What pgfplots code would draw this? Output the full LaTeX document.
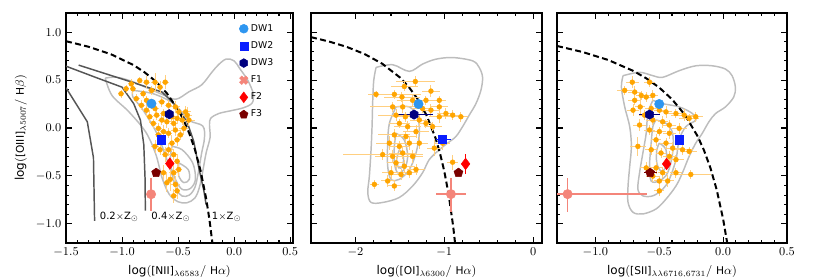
\documentclass[border=0pt]{standalone}
\usepackage{fontspec}
\setmainfont{DejaVu Sans}
\usepackage{pgfplots}
\pgfplotsset{compat=1.18}
\usetikzlibrary{plotmarks}

\definecolor{dwone}{HTML}{2E96F0}
\definecolor{dwtwo}{HTML}{0A1EFF}
\definecolor{dwthree}{HTML}{000080}
\definecolor{fone}{HTML}{F4857A}
\definecolor{ftwo}{HTML}{FF0000}
\definecolor{fthree}{HTML}{7A0000}
\definecolor{orangept}{HTML}{FFA500}
\definecolor{orangeerr}{HTML}{FFCF80}
\definecolor{contourc}{HTML}{BDBDBD}
\definecolor{modelc}{HTML}{555555}

\pgfdeclareplotmark{hexagon*}{%
  \pgfpathmoveto{\pgfpointpolar{90}{\pgfplotmarksize}}%
  \pgfpathlineto{\pgfpointpolar{150}{\pgfplotmarksize}}%
  \pgfpathlineto{\pgfpointpolar{210}{\pgfplotmarksize}}%
  \pgfpathlineto{\pgfpointpolar{270}{\pgfplotmarksize}}%
  \pgfpathlineto{\pgfpointpolar{330}{\pgfplotmarksize}}%
  \pgfpathlineto{\pgfpointpolar{30}{\pgfplotmarksize}}%
  \pgfpathclose\pgfusepathqfillstroke}
\pgfdeclareplotmark{X*}{%
  \pgfpathmoveto{\pgfpointpolar{115.7}{1.06\pgfplotmarksize}}%
  \pgfpathlineto{\pgfpointpolar{90}{0.5\pgfplotmarksize}}%
  \pgfpathlineto{\pgfpointpolar{64.3}{1.06\pgfplotmarksize}}%
  \pgfpathlineto{\pgfpointpolar{25.7}{1.06\pgfplotmarksize}}%
  \pgfpathlineto{\pgfpointpolar{0}{0.5\pgfplotmarksize}}%
  \pgfpathlineto{\pgfpointpolar{-25.7}{1.06\pgfplotmarksize}}%
  \pgfpathlineto{\pgfpointpolar{-64.3}{1.06\pgfplotmarksize}}%
  \pgfpathlineto{\pgfpointpolar{-90}{0.5\pgfplotmarksize}}%
  \pgfpathlineto{\pgfpointpolar{-115.7}{1.06\pgfplotmarksize}}%
  \pgfpathlineto{\pgfpointpolar{-154.3}{1.06\pgfplotmarksize}}%
  \pgfpathlineto{\pgfpointpolar{180}{0.5\pgfplotmarksize}}%
  \pgfpathlineto{\pgfpointpolar{154.3}{1.06\pgfplotmarksize}}%
  \pgfpathclose\pgfusepathqfillstroke}

\newcommand\sx[1]{\mbox{\fontsize{8}{9}\selectfont #1}}

\pgfplotsset{
  bpt/.style={
    scale only axis, height=172.5pt, anchor=south west,
    ymin=-1.2, ymax=1.2, ytick={-1,-0.5,0,0.5,1},
    minor x tick num=4, minor y tick num=4,
    tick align=inside, major tick length=4.5pt, minor tick length=2.4pt,
    tick style={black, line width=0.8pt},
    axis line style={line width=1.2pt},
    tick label style={font=\fontsize{9}{10}\selectfont},
    label style={font=\fontsize{9}{10}\selectfont},
    yticklabel style={/pgf/number format/.cd, fixed, fixed zerofill, precision=1},
  },
  cont/.style={contourc, line width=1.1pt, smooth, tension=0.55, forget plot},
  opts/.style={only marks, mark=*, mark size=1.8pt, color=orangept, forget plot,
    mark options={fill=orangept, draw=orangept},
    error bars/x dir=both, error bars/x explicit,
    error bars/y dir=both, error bars/y explicit,
    error bars/error bar style={orangeerr, line width=0.75pt},
    error bars/error mark=none},
  kdash/.style={black, line width=1.5pt, dash pattern=on 4.5pt off 2.5pt, forget plot},
  sp/.style={only marks, forget plot, color=#1, mark options={fill=#1, draw=#1},
    error bars/x dir=both, error bars/x explicit,
    error bars/y dir=both, error bars/y explicit,
    error bars/error bar style={#1, line width=1pt},
    error bars/error mark=none},
  model/.style={modelc, line width=1.1pt, forget plot},
}

\begin{document}
\begin{tikzpicture}
\useasboundingbox (0,0) rectangle (622.5pt,207.75pt);

% ---------------- Panel 1 ----------------
\begin{axis}[bpt, at={(49.5pt,25.5pt)}, width=170.25pt,
  xmin=-1.5, xmax=0.525, xtick={-1.5,-1,-0.5,0,0.5},
  xticklabel style={/pgf/number format/.cd, fixed, fixed zerofill, precision=1},
  xlabel={$\log(\sx{[NII]}_{\lambda6583}/\ \sx{H}\alpha)$},
  ylabel={$\log(\sx{[OIII]}_{\lambda5007}/\ \sx{H}\beta)$},
  legend style={draw=none, fill=none, at={(0.745,0.975)}, anchor=north west,
    font=\fontsize{7}{8}\selectfont, row sep=2.2pt},
  legend cell align=left]
\addlegendimage{only marks, mark=*, mark size=3.3pt, color=dwone}
\addlegendentry{DW1}
\addlegendimage{only marks, mark=square*, mark size=3pt, color=dwtwo}
\addlegendentry{DW2}
\addlegendimage{only marks, mark=hexagon*, mark size=3.3pt, color=dwthree}
\addlegendentry{DW3}
\addlegendimage{only marks, mark=X*, mark size=3.3pt, color=fone}
\addlegendentry{F1}
\addlegendimage{only marks, mark=diamond*, mark size=4pt, color=ftwo}
\addlegendentry{F2}
\addlegendimage{only marks, mark=pentagon*, mark size=3.3pt, color=fthree}
\addlegendentry{F3}

\addplot[cont] coordinates {(-1.15,0.52) (-1.05,0.53) (-0.92,0.49) (-0.78,0.42) (-0.64,0.35) (-0.52,0.30) (-0.40,0.38) (-0.29,0.45) (-0.20,0.58) (-0.14,0.66) (-0.07,0.72) (0.0,0.70) (0.05,0.62) (0.12,0.50) (0.17,0.36) (0.16,0.26) (0.08,0.21) (-0.03,0.18) (-0.14,0.15) (-0.21,0.10) (-0.22,0.03) (-0.215,-0.10) (-0.25,-0.26) (-0.28,-0.45) (-0.31,-0.62) (-0.35,-0.73) (-0.42,-0.78) (-0.50,-0.77) (-0.58,-0.69) (-0.643,-0.52) (-0.70,-0.27) (-0.79,-0.04) (-0.94,0.17) (-1.09,0.34) (-1.15,0.52)};
\addplot[cont] coordinates {(-0.903,0.392) (-0.721,0.357) (-0.539,0.254) (-0.403,0.082) (-0.28,0.021) (-0.265,-0.106) (-0.29,-0.261) (-0.32,-0.467) (-0.35,-0.62) (-0.40,-0.70) (-0.464,-0.71) (-0.515,-0.64) (-0.55,-0.50) (-0.61,-0.296) (-0.69,-0.055) (-0.812,0.186) (-0.903,0.323) (-0.903,0.392)};
\addplot[cont] coordinates {(-0.555,-0.192) (-0.464,-0.227) (-0.37,-0.364) (-0.345,-0.536) (-0.39,-0.63) (-0.464,-0.64) (-0.524,-0.536) (-0.570,-0.364) (-0.555,-0.192)};
\addplot[cont] coordinates {(-0.494,-0.364) (-0.41,-0.433) (-0.40,-0.536) (-0.448,-0.57) (-0.494,-0.502) (-0.494,-0.364)};

\addplot[model] coordinates {(-1.5,0.42) (-1.31,0.065) (-1.255,-0.31) (-1.245,-0.97)};
\addplot[model] coordinates {(-1.5,0.645) (-1.24,0.53) (-1.0,0.426) (-0.896,0.254) (-0.836,0.082) (-0.806,-0.175) (-0.795,-0.52) (-0.792,-0.863)};
\addplot[model] coordinates {(-1.387,0.656) (-0.911,0.478) (-0.643,0.375) (-0.524,0.237) (-0.42,0.065) (-0.36,-0.141) (-0.315,-0.416) (-0.27,-0.656) (-0.25,-0.80)};

\addplot[kdash] coordinates {(-1.5,0.906) (-1.3,0.848) (-1.1,0.770) (-0.9,0.658) (-0.8,0.582) (-0.7,0.487) (-0.6,0.362) (-0.5,0.191) (-0.45,0.080) (-0.4,-0.056) (-0.35,-0.225) (-0.3,-0.443) (-0.25,-0.733) (-0.22,-0.959) (-0.194,-1.2)};

\addplot[opts] coordinates {
(-1.009,0.357) +- (0.03,0.04)
(-0.918,0.460) +- (0.03,0.05)
(-0.842,0.495) +- (0.02,0.04)
(-0.782,0.478) +- (0.03,0.06)
(-0.706,0.478) +- (0.04,0.10)
(-0.615,0.478) +- (0.03,0.07)
(-0.661,0.426) +- (0.03,0.06)
(-0.736,0.392) +- (0.03,0.05)
(-0.812,0.357) +- (0.03,0.04)
(-0.782,0.289) +- (0.02,0.05)
(-0.827,0.237) +- (0.03,0.05)
(-0.782,0.186) +- (0.03,0.06)
(-0.706,0.203) +- (0.04,0.07)
(-0.645,0.272) +- (0.03,0.05)
(-0.585,0.237) +- (0.03,0.05)
(-0.524,0.220) +- (0.04,0.06)
(-0.494,0.168) +- (0.03,0.05)
(-0.433,0.168) +- (0.05,0.06)
(-0.418,0.134) +- (0.04,0.08)
(-0.464,0.083) +- (0.03,0.05)
(-0.509,0.100) +- (0.04,0.06)
(-0.539,0.048) +- (0.03,0.05)
(-0.600,0.065) +- (0.04,0.06)
(-0.645,0.083) +- (0.03,0.05)
(-0.691,0.134) +- (0.03,0.05)
(-0.676,-0.004) +- (0.03,0.06)
(-0.630,-0.038) +- (0.03,0.07)
(-0.585,-0.055) +- (0.03,0.05)
(-0.524,-0.021) +- (0.04,0.06)
(-0.479,-0.072) +- (0.03,0.05)
(-0.509,-0.124) +- (0.03,0.06)
(-0.555,-0.158) +- (0.03,0.08)
(-0.585,-0.227) +- (0.04,0.07)
(-0.615,-0.278) +- (0.03,0.08)
(-0.661,-0.227) +- (0.03,0.06)
(-0.706,-0.192) +- (0.04,0.07)
(-0.539,-0.278) +- (0.04,0.06)
(-0.509,-0.347) +- (0.03,0.08)
(-0.494,-0.433) +- (0.03,0.07)
(-0.539,-0.467) +- (0.04,0.08)
(-0.570,-0.536) +- (0.03,0.12)
(-0.524,-0.588) +- (0.04,0.09)
(-0.509,-0.656) +- (0.03,0.08)
(-0.539,-0.708) +- (0.03,0.07)
(-0.600,-0.571) +- (0.03,0.10)
(-0.630,-0.467) +- (0.03,0.08)
(-0.676,-0.072) +- (0.03,0.06)
(-0.721,0.048) +- (0.03,0.05)
(-0.752,0.117) +- (0.03,0.06)
(-0.630,0.151) +- (0.03,0.05)
(-0.555,0.117) +- (0.03,0.05)
(-0.448,-0.004) +- (0.04,0.07)
(-0.403,0.083) +- (0.05,0.06)
(-0.873,0.306) +- (0.03,0.05)
(-0.903,0.409) +- (0.03,0.05)
(-0.964,0.409) +- (0.03,0.04)
};

\addplot[sp=dwone, mark=*, mark size=3.5pt] coordinates {(-0.738,0.254) +- (0.02,0.02)};
\addplot[sp=dwthree, mark=hexagon*, mark size=3.5pt] coordinates {(-0.579,0.144) +- (0.02,0.02)};
\addplot[sp=dwtwo, mark=square*, mark size=3.2pt] coordinates {(-0.652,-0.124) +- (0.02,0.02)};
\addplot[sp=ftwo, mark=diamond*, mark size=4.3pt] coordinates {(-0.574,-0.371) +- (0.02,0.03)};
\addplot[sp=fthree, mark=pentagon*, mark size=3.5pt] coordinates {(-0.696,-0.467) +- (0.02,0.03)};
\addplot[sp=fone, mark=*, mark size=3.5pt] coordinates {(-0.741,-0.691) += (0.01,0.17) -= (0.01,0.18)};

\node[anchor=west, font=\fontsize{7.5}{8}\selectfont, inner sep=0pt] at (axis cs:-1.2,-0.93) {0.2$\times$Z$_\odot$};
\node[anchor=west, font=\fontsize{7.5}{8}\selectfont, inner sep=0pt] at (axis cs:-0.74,-0.93) {0.4$\times$Z$_\odot$};
\node[anchor=west, font=\fontsize{7.5}{8}\selectfont, inner sep=0pt] at (axis cs:-0.20,-0.93) {1$\times$Z$_\odot$};
\end{axis}

% ---------------- Panel 2 ----------------
\begin{axis}[bpt, at={(233.25pt,25.5pt)}, width=173.25pt,
  xmin=-2.5, xmax=0.1, xtick={-2,-1,0}, yticklabels={},
  xlabel={$\log(\sx{[OI]}_{\lambda6300}/\ \sx{H}\alpha)$}]
\addplot[cont] coordinates {(-1.768,0.632) (-1.581,0.660) (-1.393,0.591) (-1.244,0.667) (-1.094,0.718) (-0.906,0.735) (-0.682,0.701) (-0.607,0.632) (-0.569,0.529) (-0.588,0.392) (-0.644,0.254) (-0.719,0.134) (-0.794,0.014) (-0.869,-0.089) (-0.963,-0.158) (-1.056,-0.227) (-1.169,-0.330) (-1.244,-0.467) (-1.356,-0.605) (-1.506,-0.725) (-1.693,-0.777) (-1.824,-0.777) (-1.861,-0.674) (-1.843,-0.502) (-1.824,-0.227) (-1.813,0.014) (-1.805,0.289) (-1.794,0.495) (-1.768,0.632)};
\addplot[cont] coordinates {(-1.543,0.220) (-1.393,0.220) (-1.300,0.117) (-1.281,-0.055) (-1.318,-0.261) (-1.393,-0.433) (-1.506,-0.536) (-1.599,-0.536) (-1.637,-0.399) (-1.637,-0.158) (-1.618,0.048) (-1.543,0.220)};
\addplot[cont] coordinates {(-1.543,-0.055) (-1.450,-0.124) (-1.412,-0.296) (-1.450,-0.433) (-1.524,-0.467) (-1.562,-0.364) (-1.562,-0.192) (-1.543,-0.055)};
\addplot[cont] coordinates {(-1.506,-0.227) (-1.461,-0.296) (-1.468,-0.399) (-1.513,-0.416) (-1.536,-0.330) (-1.506,-0.227)};

\addplot[kdash] coordinates {(-2.5,0.948) (-2.3,0.903) (-2.1,0.847) (-1.9,0.773) (-1.7,0.672) (-1.5,0.528) (-1.4,0.429) (-1.3,0.302) (-1.2,0.133) (-1.1,-0.101) (-1.05,-0.257) (-1.0,-0.450) (-0.95,-0.698) (-0.9,-1.025) (-0.878,-1.205)};

\addplot[opts] coordinates {
(-1.326,0.485) +- (0.22,0.06)
(-1.450,0.433) +- (0.15,0.05)
(-1.150,0.385) +- (0.10,0.06)
(-1.768,0.351) +- (0.08,0.04)
(-1.562,0.351) +- (0.30,0.05)
(-1.476,0.323) +- (0.20,0.05)
(-1.356,0.289) +- (0.18,0.06)
(-1.206,0.289) +- (0.10,0.05)
(-1.056,0.289) +- (0.08,0.05)
(-1.581,0.220) +- (0.25,0.05)
(-1.468,0.220) +- (0.20,0.06)
(-1.244,0.203) +- (0.12,0.05)
(-1.150,0.186) +- (0.10,0.06)
(-1.056,0.220) +- (0.10,0.05)
(-0.981,0.151) +- (0.10,0.06)
(-0.906,0.134) +- (0.12,0.05)
(-0.813,0.117) +- (0.08,0.05)
(-1.543,0.134) +- (0.20,0.06)
(-1.438,0.117) +- (0.15,0.05)
(-1.506,0.048) +- (0.12,0.05)
(-1.412,0.014) +- (0.15,0.06)
(-1.281,0.083) +- (0.10,0.06)
(-1.206,0.048) +- (0.08,0.05)
(-1.131,0.014) +- (0.10,0.05)
(-1.056,0.117) +- (0.12,0.06)
(-1.318,-0.038) +- (0.15,0.07)
(-1.431,-0.089) +- (0.12,0.06)
(-1.393,-0.158) +- (0.15,0.07)
(-1.562,-0.072) +- (0.18,0.06)
(-1.506,-0.192) +- (0.12,0.06)
(-1.618,-0.158) +- (0.15,0.07)
(-1.281,-0.158) +- (0.10,0.06)
(-1.112,-0.210) +- (0.08,0.08)
(-1.693,-0.278) +- (0.45,0.06)
(-1.581,-0.296) +- (0.20,0.07)
(-1.468,-0.261) +- (0.15,0.06)
(-1.356,-0.296) +- (0.12,0.07)
(-1.543,-0.364) +- (0.10,0.06)
(-1.450,-0.399) +- (0.12,0.06)
(-1.599,-0.467) +- (0.10,0.07)
(-1.487,-0.485) +- (0.12,0.06)
(-1.393,-0.467) +- (0.10,0.06)
(-1.318,-0.433) +- (0.10,0.06)
(-1.637,-0.553) +- (0.08,0.06)
(-1.562,-0.605) +- (0.08,0.05)
(-1.787,-0.588) +- (0.05,0.05)
(-0.906,-0.357) +- (0.06,0.08)
(-1.019,-0.158) +- (0.08,0.07)
};

\addplot[sp=dwone, mark=*, mark size=3.5pt] coordinates {(-1.29,0.25) +- (0.02,0.02)};
\addplot[sp=dwthree, mark=hexagon*, mark size=3.5pt] coordinates {(-1.34,0.14) += (0.21,0.02) -= (0.18,0.02)};
\addplot[sp=dwtwo, mark=square*, mark size=3.2pt] coordinates {(-1.02,-0.12) += (0.10,0.02) -= (0.07,0.02)};
\addplot[sp=ftwo, mark=diamond*, mark size=4.3pt] coordinates {(-0.76,-0.375) +- (0.02,0.10)};
\addplot[sp=fthree, mark=pentagon*, mark size=3.5pt] coordinates {(-0.84,-0.467) +- (0.02,0.03)};
\addplot[sp=fone, mark=*, mark size=3.5pt] coordinates {(-0.925,-0.69) += (0.175,0.17) -= (0.165,0.19)};
\end{axis}

% ---------------- Panel 3 ----------------
\begin{axis}[bpt, at={(417.75pt,25.5pt)}, width=172.5pt,
  xmin=-1.3, xmax=0.5, xtick={-1,-0.5,0,0.5}, yticklabels={},
  xticklabel style={/pgf/number format/.cd, fixed, fixed zerofill, precision=1},
  xlabel={$\log(\sx{[SII]}_{\lambda\lambda6716,6731}/\ \sx{H}\alpha)$}]
\addplot[cont] coordinates {(-0.783,0.546) (-0.654,0.581) (-0.550,0.546) (-0.473,0.529) (-0.344,0.598) (-0.214,0.649) (-0.085,0.649) (0.018,0.615) (0.070,0.546) (0.096,0.426) (0.083,0.323) (0.018,0.220) (-0.059,0.151) (-0.111,0.065) (-0.163,-0.055) (-0.214,-0.158) (-0.266,-0.296) (-0.318,-0.467) (-0.369,-0.605) (-0.447,-0.742) (-0.525,-0.845) (-0.628,-0.897) (-0.705,-0.880) (-0.744,-0.777) (-0.744,-0.605) (-0.731,-0.399) (-0.718,-0.192) (-0.731,0.014) (-0.770,0.220) (-0.796,0.426) (-0.783,0.546)};
\addplot[cont] coordinates {(-0.550,0.289) (-0.473,0.254) (-0.344,0.220) (-0.240,0.151) (-0.214,0.083) (-0.292,0.014) (-0.344,-0.124) (-0.369,-0.330) (-0.421,-0.536) (-0.473,-0.639) (-0.550,-0.708) (-0.628,-0.708) (-0.667,-0.639) (-0.654,-0.467) (-0.628,-0.261) (-0.602,-0.055) (-0.589,0.151) (-0.550,0.289)};
\addplot[cont] coordinates {(-0.525,0.083) (-0.447,0.048) (-0.395,-0.055) (-0.395,-0.261) (-0.434,-0.467) (-0.499,-0.553) (-0.563,-0.553) (-0.576,-0.399) (-0.563,-0.158) (-0.550,0.014) (-0.525,0.083)};
\addplot[cont] coordinates {(-0.499,-0.158) (-0.447,-0.227) (-0.447,-0.399) (-0.486,-0.450) (-0.519,-0.364) (-0.519,-0.227) (-0.499,-0.158)};

\addplot[kdash] coordinates {(-1.3,0.856) (-1.1,0.793) (-0.9,0.710) (-0.7,0.594) (-0.6,0.517) (-0.5,0.422) (-0.4,0.300) (-0.3,0.139) (-0.2,-0.085) (-0.15,-0.232) (-0.1,-0.414) (-0.05,-0.646) (0.0,-0.95) (0.032,-1.2)};

\addplot[opts] coordinates {
(-0.711,0.478) +- (0.05,0.06)
(-0.576,0.478) +- (0.04,0.05)
(-0.770,0.392) +- (0.06,0.05)
(-0.692,0.375) +- (0.05,0.06)
(-0.641,0.340) +- (0.04,0.05)
(-0.602,0.323) +- (0.05,0.05)
(-0.550,0.340) +- (0.04,0.06)
(-0.692,0.289) +- (0.05,0.05)
(-0.649,0.220) +- (0.04,0.10)
(-0.563,0.203) +- (0.05,0.05)
(-0.499,0.186) +- (0.04,0.05)
(-0.447,0.168) +- (0.05,0.06)
(-0.369,0.151) +- (0.06,0.05)
(-0.305,0.134) +- (0.10,0.06)
(-0.266,0.100) +- (0.08,0.05)
(-0.214,0.117) +- (0.06,0.05)
(-0.705,0.186) +- (0.05,0.06)
(-0.615,0.134) +- (0.04,0.05)
(-0.550,0.083) +- (0.05,0.05)
(-0.473,0.065) +- (0.04,0.06)
(-0.421,0.031) +- (0.05,0.05)
(-0.344,-0.004) +- (0.06,0.06)
(-0.654,0.031) +- (0.05,0.06)
(-0.576,-0.021) +- (0.04,0.05)
(-0.499,-0.038) +- (0.05,0.05)
(-0.421,-0.055) +- (0.05,0.06)
(-0.525,-0.124) +- (0.04,0.06)
(-0.447,-0.158) +- (0.05,0.05)
(-0.395,-0.210) +- (0.06,0.06)
(-0.318,-0.227) +- (0.08,0.05)
(-0.266,-0.244) +- (0.06,0.05)
(-0.667,-0.192) +- (0.06,0.10)
(-0.563,-0.227) +- (0.05,0.06)
(-0.486,-0.261) +- (0.04,0.05)
(-0.421,-0.296) +- (0.05,0.06)
(-0.369,-0.330) +- (0.06,0.05)
(-0.525,-0.416) +- (0.05,0.06)
(-0.473,-0.467) +- (0.04,0.06)
(-0.369,-0.467) +- (0.05,0.05)
(-0.253,-0.485) +- (0.16,0.05)
(-0.550,-0.502) +- (0.05,0.06)
(-0.499,-0.553) +- (0.04,0.05)
(-0.434,-0.553) +- (0.05,0.06)
(-0.499,-0.656) +- (0.04,0.05)
(-0.602,-0.416) +- (0.05,0.06)
};

\addplot[sp=dwone, mark=*, mark size=3.5pt] coordinates {(-0.50,0.25) +- (0.02,0.02)};
\addplot[sp=dwthree, mark=hexagon*, mark size=3.5pt] coordinates {(-0.576,0.14) +- (0.08,0.02)};
\addplot[sp=dwtwo, mark=square*, mark size=3.2pt] coordinates {(-0.344,-0.124) +- (0.02,0.02)};
\addplot[sp=ftwo, mark=diamond*, mark size=4.3pt] coordinates {(-0.442,-0.375) +- (0.02,0.05)};
\addplot[sp=fthree, mark=pentagon*, mark size=3.5pt] coordinates {(-0.571,-0.467) +- (0.05,0.02)};
\addplot[sp=fone, mark=*, mark size=3.5pt] coordinates {(-1.217,-0.69) += (0.62,0.17) -= (0.2,0.19)};
\end{axis}
\end{tikzpicture}
\end{document}
